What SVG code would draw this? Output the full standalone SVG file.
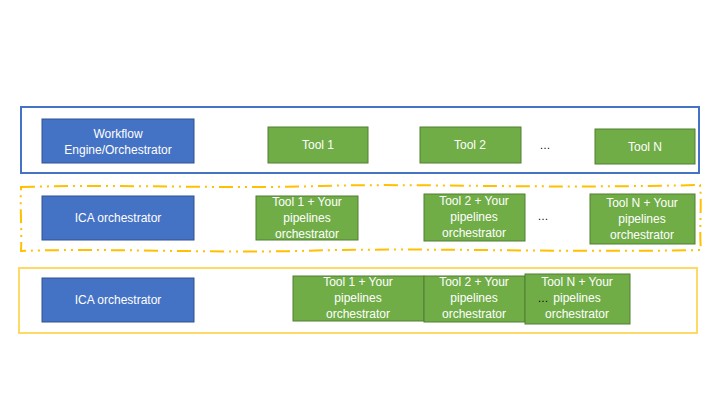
<svg xmlns="http://www.w3.org/2000/svg" width="720" height="405" viewBox="0 0 720 405">
<style>
.blue{fill:#4472C4;stroke:#2F528F;stroke-width:1}
.green{fill:#70AD47;stroke:#507E32;stroke-width:1}
.t{font-family:"Liberation Sans",Arial,sans-serif;font-size:12px;fill:#FFFFFF;text-anchor:middle}
.dots{font-family:"Liberation Sans",Arial,sans-serif;font-size:11px;fill:#000000;text-anchor:middle}
</style>
<rect width="720" height="405" fill="#FFFFFF"/>
<g id="frames">
<rect id="frame1" x="21" y="107" width="678" height="66" fill="none" stroke="#4472C4" stroke-width="2"/>
<path id="frame2" d="M21,187 C120,184 220,189 320,186 C420,183 520,189 700,185 C702,205 699,230 701,250 C560,253 420,247 300,251 C200,253 100,248 21,251 C22,230 20,210 21,187 Z" fill="none" stroke="#FFC000" stroke-width="2" stroke-dasharray="14 5 2 5 2 5"/>
<rect id="frame3" x="19" y="268" width="678" height="65" fill="none" stroke="#FFD966" stroke-width="2"/>
</g>
<g id="row1">
<g id="wf"><rect class="blue" x="42" y="119" width="152" height="44"/><text class="t" x="118" y="138">Workflow</text><text class="t" x="118" y="154">Engine/Orchestrator</text></g>
<g id="t1a"><rect class="green" x="268" y="127" width="100" height="36"/><text class="t" x="318" y="149">Tool 1</text></g>
<g id="t2a"><rect class="green" x="420" y="127" width="101" height="36"/><text class="t" x="470" y="149">Tool 2</text></g>
<text class="dots" x="545" y="149">…</text>
<g id="tNa"><rect class="green" x="595" y="129" width="100" height="35"/><text class="t" x="645" y="151">Tool N</text></g>
</g>
<g id="row2">
<g id="ica2"><rect class="blue" x="42" y="196" width="152" height="44"/><text class="t" x="118" y="222">ICA orchestrator</text></g>
<g id="t1b"><rect class="green" x="256" y="196" width="102" height="44"/><text class="t" x="307" y="206">Tool 1 + Your</text><text class="t" x="307" y="222">pipelines</text><text class="t" x="307" y="238">orchestrator</text></g>
<g id="t2b"><rect class="green" x="424" y="194" width="101" height="47"/><text class="t" x="474" y="205">Tool 2 + Your</text><text class="t" x="474" y="221">pipelines</text><text class="t" x="474" y="237">orchestrator</text></g>
<text class="dots" x="543" y="220">…</text>
<g id="tNb"><rect class="green" x="590" y="194" width="105" height="50"/><text class="t" x="642" y="207">Tool N + Your</text><text class="t" x="642" y="223">pipelines</text><text class="t" x="642" y="239">orchestrator</text></g>
</g>
<g id="row3">
<g id="ica3"><rect class="blue" x="42" y="278" width="152" height="44"/><text class="t" x="118" y="304">ICA orchestrator</text></g>
<g id="t1c"><rect class="green" x="293" y="276" width="131" height="45"/><text class="t" x="358" y="286">Tool 1 + Your</text><text class="t" x="358" y="302">pipelines</text><text class="t" x="358" y="318">orchestrator</text></g>
<g id="t2c"><rect class="green" x="424" y="276" width="101" height="46"/><text class="t" x="474" y="286">Tool 2 + Your</text><text class="t" x="474" y="302">pipelines</text><text class="t" x="474" y="318">orchestrator</text></g>
<g id="tNc"><rect class="green" x="525" y="274" width="105" height="50"/><text class="t" x="577" y="286">Tool N + Your</text><text class="t" x="577" y="302">pipelines</text><text class="t" x="577" y="318">orchestrator</text></g>
<text class="dots" x="543" y="302">…</text>
</g>
<g id="connectors"></g>
</svg>
